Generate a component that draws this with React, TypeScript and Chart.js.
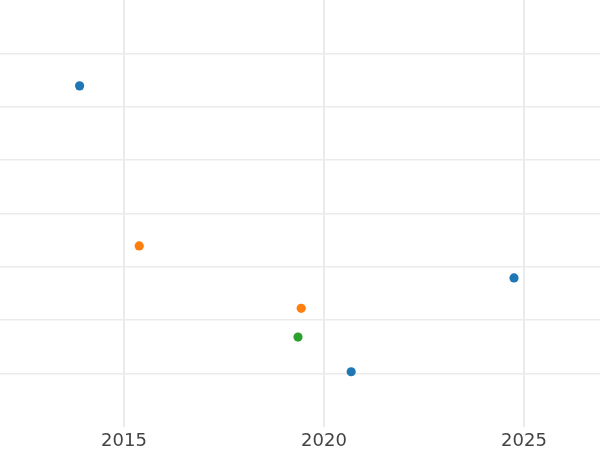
import React, { useEffect, useRef } from "react";
import { Chart, registerables } from "chart.js";

Chart.register(...registerables);

const seriesNames = ["A", "B", "C"];
const seriesColors = ["#1f77b4", "#ff7f0e", "#2ca02c"];
const blueX = [2013.89, 2024.75, 2020.68];
const blueY = [6.39, 2.79, 1.03];
const orangeX = [2015.38, 2019.43];
const orangeY = [3.39, 2.22];
const greenX = [2019.35];
const greenY = [1.68];
const xTicks = [2015, 2020, 2025];
const xMin = 2011.9;
const xMax = 2026.9;
const yMin = 0;
const yMax = 8;

export default function App() {
  const ref = useRef<HTMLCanvasElement | null>(null);
  useEffect(() => {
    if (!ref.current) return;
    const mk = (xs: number[], ys: number[]) => xs.map((x, i) => ({ x, y: ys[i] }));
    const data = [mk(blueX, blueY), mk(orangeX, orangeY), mk(greenX, greenY)];
    const chart = new Chart(ref.current, {
      type: "scatter",
      data: {
        datasets: data.map((d, i) => ({
          label: seriesNames[i],
          data: d,
          backgroundColor: seriesColors[i],
          borderWidth: 0,
          pointRadius: 4.6,
          pointHoverRadius: 4.6,
          clip: false,
        })),
      },
      options: {
        animation: false,
        responsive: false,
        maintainAspectRatio: false,
        layout: { padding: 0, autoPadding: false },
        plugins: { legend: { display: false }, tooltip: { enabled: false } },
        scales: {
          x: {
            type: "linear",
            min: xMin,
            max: xMax,
            afterBuildTicks: (s: any) => {
              s.ticks = xTicks.map((v) => ({ value: v }));
            },
            afterFit: (s: any) => {
              s.height = 450 - 426.7;
            },
            border: { display: false },
            grid: { color: "#ebebeb", lineWidth: 2, drawTicks: false },
            ticks: {
              padding: 4,
              color: "#444444",
              font: { family: "DejaVu Sans", size: 18 },
              callback: (v: any) => String(v),
              maxRotation: 0,
            },
          },
          y: {
            type: "linear",
            min: yMin,
            max: yMax,
            afterFit: (s: any) => {
              s.width = 0;
            },
            border: { display: false },
            grid: {
              color: (c: any) =>
                c.tick && (c.tick.value === yMin || c.tick.value === yMax)
                  ? "rgba(0,0,0,0)"
                  : "#ebebeb",
              lineWidth: 1.5,
              drawTicks: false,
            },
            ticks: { display: false, stepSize: 1 },
          },
        },
      },
    });
    return () => chart.destroy();
  }, []);
  return (
    <div style={{ position: "fixed", left: 0, top: 0, width: 600, height: 450, background: "#fff" }}>
      <canvas ref={ref} width={600} height={450} style={{ width: 600, height: 450 }} />
    </div>
  );
}
